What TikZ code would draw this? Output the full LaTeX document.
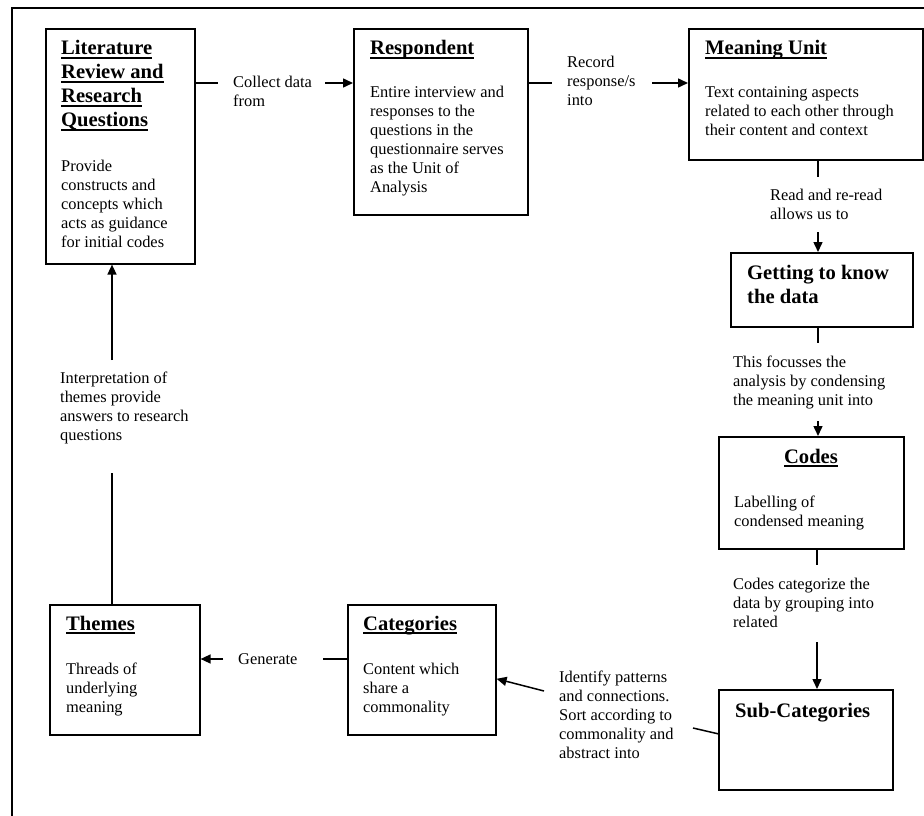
\documentclass[tikz,border=0pt]{standalone}
\usepackage{fontspec}
\setmainfont{Liberation Serif}
\usetikzlibrary{arrows.meta}

% underlined heading text with a heavy rule
\newsavebox\ulbox
\newcommand\ulbar[1]{\sbox\ulbox{#1}\rlap{\rule[-3.6pt]{\wd\ulbox}{1.5pt}}\usebox\ulbox}
% several left-aligned lines, baseline at the first line
\newcommand\stack[1]{\begin{tabular}[t]{@{}l@{}}#1\end{tabular}}

\tikzset{
  stagebox/.style={draw, line width=1.6pt, inner sep=0pt, anchor=north west},
  conn/.style={line width=1.5pt},
  arr/.style={conn, -{Triangle[length=10pt,width=9pt]}},
  body/.style={font=\fontsize{16.4}{19}\selectfont, inner sep=0pt, anchor=base west},
  ttl/.style={font=\fontsize{20.6}{24}\selectfont\bfseries, inner sep=0pt, anchor=base west},
}

\begin{document}
\begin{tikzpicture}[x=1pt, y=-1pt]
\useasboundingbox (0,0) rectangle (924,816);

% outer frame
\draw[line width=1.5pt] (12,816) -- (12,8) -- (924,8);

% stage boxes
\node[stagebox, minimum width=149pt, minimum height=235pt] (lit)    at (45,28)  {};
\node[stagebox, minimum width=174pt, minimum height=186pt] (resp)   at (353,28) {};
\node[stagebox, minimum width=234pt, minimum height=131pt] (mu)     at (688,28) {};
\node[stagebox, minimum width=182pt, minimum height=74pt]  (get)    at (730,252) {};
\node[stagebox, minimum width=185pt, minimum height=112pt] (codes)  at (718,436) {};
\node[stagebox, minimum width=174pt, minimum height=100pt] (sub)    at (718,689) {};
\node[stagebox, minimum width=148pt, minimum height=130pt] (cat)    at (347,604) {};
\node[stagebox, minimum width=150pt, minimum height=130pt] (themes) at (49,604)  {};

% box contents
\node[ttl]  (litT) at (61,55) {\stack{\ulbar{Literature}\\\ulbar{Review and}\\\ulbar{Research}\\\ulbar{Questions}}};
\node[body] (litB) at (61,171) {\stack{Provide\\constructs and\\concepts which\\acts as guidance\\for initial codes}};

\node[ttl]  (respT) at (370,55) {\ulbar{Respondent}};
\node[body] (respB) at (370,98) {\stack{Entire interview and\\responses to the\\questions in the\\questionnaire serves\\as the Unit of\\Analysis}};

\node[ttl]  (muT) at (705,55) {\ulbar{Meaning Unit}};
\node[body] (muB) at (705,98) {\stack{Text containing aspects\\related to each other through\\their content and context}};

\node[ttl] (getT) at (747,279) {\stack{Getting to know\\the data}};

\node[ttl, anchor=base] (codesT) at (811,463) {\ulbar{Codes}};
\node[body] (codesB) at (734,507) {\stack{Labelling of\\condensed meaning}};

\node[ttl] (subT) at (735,717) {Sub-Categories};

\node[ttl]  (catT) at (363,630) {\ulbar{Categories}};
\node[body] (catB) at (363,674) {\stack{Content which\\share a\\commonality}};

\node[ttl]  (thT) at (66,630) {\ulbar{Themes}};
\node[body] (thB) at (66,674) {\stack{Threads of\\underlying\\meaning}};

% connector labels
\node[body] (lCollect) at (233,88)  {\stack{Collect data\\from}};
\node[body] (lRecord)  at (567,68)  {\stack{Record\\response/s\\into}};
\node[body] (lRead)    at (770,200) {\stack{Read and re-read\\allows us to}};
\node[body] (lFocus)   at (733,367) {\stack{This focusses the\\analysis by condensing\\the meaning unit into}};
\node[body] (lCateg)   at (733,589) {\stack{Codes categorize the\\data by grouping into\\related}};
\node[body] (lIdent)   at (559,682) {\stack{Identify patterns\\and connections.\\Sort according to\\commonality and\\abstract into}};
\node[body] (lGen)     at (238,664) {Generate};
\node[body] (lInterp)  at (60,383)  {\stack{Interpretation of\\themes provide\\answers to research\\questions}};

% free ends of the broken connectors
\coordinate (c1a) at (218,83);  \coordinate (c1b) at (325,83);
\coordinate (c2a) at (552,83);  \coordinate (c2b) at (652,83);
\coordinate (c3a) at (818,177); \coordinate (c3b) at (818,232);
\coordinate (c4a) at (818,343); \coordinate (c4b) at (818,421);
\coordinate (c5a) at (817,565); \coordinate (c5b) at (817,642);
\coordinate (c6a) at (693,728); \coordinate (c6b) at (544,691);
\coordinate (c7a) at (323,659); \coordinate (c7b) at (223,659);
\coordinate (c8a) at (112,473); \coordinate (c8b) at (112,360);

% connectors
\draw[conn] (c1a -| lit.east) -- (c1a);
\draw[arr]  (c1b) -- (c1b -| resp.west);
\draw[conn] (c2a -| resp.east) -- (c2a);
\draw[arr]  (c2b) -- (c2b -| mu.west);
\draw[conn] (c3a |- mu.south) -- (c3a);
\draw[arr]  (c3b) -- (c3b |- get.north);
\draw[conn] (c4a |- get.south) -- (c4a);
\draw[arr]  (c4b) -- (c4b |- codes.north);
\draw[conn] (c5a |- codes.south) -- (c5a);
\draw[arr]  (c5b) -- (c5b |- sub.north);
\draw[conn] ([yshift=6pt]sub.west) -- (c6a);
\draw[arr]  (c6b) -- ([yshift=-9pt]cat.east);
\draw[conn] (c7a -| cat.west) -- (c7a);
\draw[arr]  (c7b) -- (c7b -| themes.east);
\draw[conn] (c8a |- themes.north) -- (c8a);
\draw[arr]  (c8b) -- (c8b |- lit.south);
\end{tikzpicture}
\end{document}
